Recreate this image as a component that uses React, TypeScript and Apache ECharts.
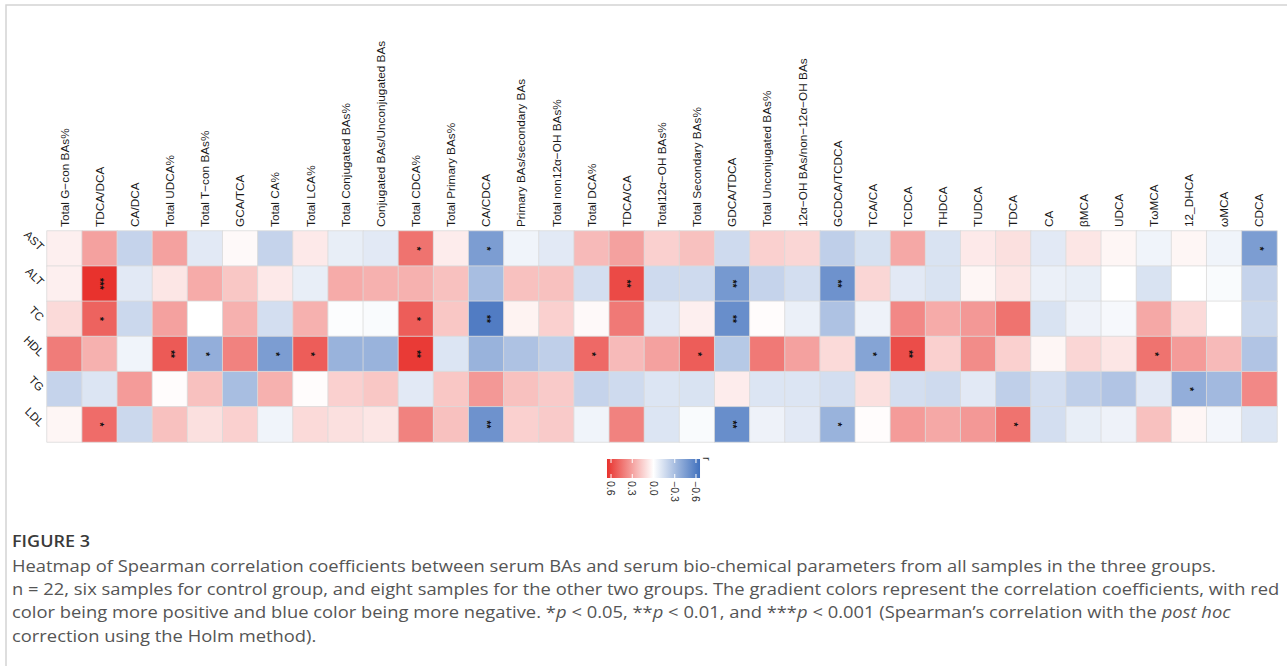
import React, { useEffect, useRef } from "react";
import * as echarts from "echarts";

const columns = [
  "Total G−con BAs%", "TDCA/DCA", "CA/DCA", "Total UDCA%", "Total T−con BAs%", "GCA/TCA",
  "Total CA%", "Total LCA%", "Total Conjugated BAs%", "Conjugated BAs/Unconjugated BAs",
  "Total CDCA%", "Total Primary BAs%", "CA/CDCA", "Primary BAs/secondary BAs",
  "Total non12α−OH BAs%", "Total DCA%", "TDCA/CA", "Total12α−OH BAs%", "Total Secondary BAs%",
  "GDCA/TDCA", "Total Unconjugated BAs%", "12α−OH BAs/non−12α−OH BAs", "GCDCA/TCDCA", "TCA/CA",
  "TCDCA", "THDCA", "TUDCA", "TDCA", "CA", "βMCA", "UDCA", "TωMCA", "12_DHCA", "ωMCA", "CDCA",
];
const rows = ["AST", "ALT", "TC", "HDL", "TG", "LDL"];

const astR = [0.05, 0.3, -0.2, 0.3, -0.1, 0.02, -0.2, 0.07, -0.08, -0.1, 0.45, 0.06, -0.45, -0.05, -0.1, 0.22, 0.3, 0.15, 0.2, -0.17, 0.15, 0.13, -0.22, -0.14, 0.28, -0.13, 0.07, 0.1, -0.1, 0.08, 0.03, -0.05, 0.03, -0.05, -0.45];
const altR = [0.05, 0.68, -0.1, 0.08, 0.27, 0.18, 0.07, -0.08, 0.27, 0.25, 0.25, 0.2, -0.3, 0.2, 0.2, -0.15, 0.58, -0.17, -0.17, -0.47, -0.2, -0.15, -0.5, 0.13, -0.1, -0.13, 0.03, 0.08, -0.07, -0.08, 0.0, -0.13, 0.0, -0.02, -0.2];
const tcR = [0.12, 0.5, -0.18, 0.3, 0.0, 0.25, -0.15, 0.25, -0.01, -0.02, 0.52, 0.18, -0.6, 0.04, 0.15, 0.02, 0.43, -0.1, 0.05, -0.52, 0.01, -0.07, -0.28, -0.06, 0.38, 0.27, 0.33, 0.45, -0.13, -0.06, -0.03, 0.28, 0.12, 0.0, -0.18];
const hdlR = [0.42, 0.25, -0.05, 0.53, -0.37, 0.4, -0.45, 0.52, -0.35, -0.35, 0.63, -0.12, -0.35, -0.28, -0.22, 0.48, 0.22, 0.3, 0.52, -0.25, 0.43, 0.3, 0.12, -0.42, 0.57, 0.15, 0.37, 0.15, 0.03, 0.13, 0.08, 0.45, 0.32, 0.22, -0.27];
const tgR = [-0.2, -0.12, 0.32, 0.01, 0.2, -0.3, 0.25, 0.01, 0.15, 0.18, -0.1, 0.18, 0.33, 0.2, 0.17, -0.2, -0.17, -0.12, -0.13, 0.06, -0.12, -0.12, -0.15, 0.1, -0.15, -0.17, -0.1, -0.22, -0.15, -0.22, -0.27, -0.1, -0.37, -0.32, 0.38];
const ldlR = [0.03, 0.47, -0.18, 0.2, 0.1, 0.15, -0.05, 0.12, 0.1, 0.08, 0.4, 0.2, -0.5, 0.15, 0.17, -0.05, 0.4, -0.12, -0.02, -0.52, -0.06, -0.1, -0.35, 0.01, 0.32, 0.28, 0.33, 0.45, -0.15, -0.08, -0.06, 0.2, 0.03, -0.04, -0.12];
const rValues = [astR, altR, tcR, hdlR, tgR, ldlR];

const sigMarks: [string, string, string][] = [
  ["AST", "Total CDCA%", "*"], ["AST", "CA/CDCA", "*"], ["AST", "CDCA", "*"],
  ["ALT", "TDCA/DCA", "***"], ["ALT", "TDCA/CA", "**"], ["ALT", "GDCA/TDCA", "**"], ["ALT", "GCDCA/TCDCA", "**"],
  ["TC", "TDCA/DCA", "*"], ["TC", "Total CDCA%", "*"], ["TC", "CA/CDCA", "**"], ["TC", "GDCA/TDCA", "**"],
  ["HDL", "Total UDCA%", "**"], ["HDL", "Total T−con BAs%", "*"], ["HDL", "Total CA%", "*"], ["HDL", "Total LCA%", "*"],
  ["HDL", "Total CDCA%", "**"], ["HDL", "Total DCA%", "*"], ["HDL", "Total Secondary BAs%", "*"], ["HDL", "TCA/CA", "*"],
  ["HDL", "TCDCA", "**"], ["HDL", "TωMCA", "*"],
  ["TG", "12_DHCA", "*"],
  ["LDL", "TDCA/DCA", "*"], ["LDL", "CA/CDCA", "**"], ["LDL", "GDCA/TDCA", "**"], ["LDL", "GCDCA/TCDCA", "*"], ["LDL", "TDCA", "*"],
];

const legendTicks = [0.6, 0.3, 0.0, -0.3, -0.6];
const legendTickLabels = ["0.6", "0.3", "0.0", "−0.3", "−0.6"];

const BLUE = "#4070bd";
const RED = "#e8322d";
const RMAX = 0.657;

const captionLines = [
  "Heatmap of Spearman correlation coefficients between serum BAs and serum bio-chemical parameters from all samples in the three groups.",
  "n = 22, six samples for control group, and eight samples for the other two groups. The gradient colors represent the correlation coefficients, with red",
  "color being more positive and blue color being more negative. *{i|p} < 0.05, **{i|p} < 0.01, and ***{i|p} < 0.001 (Spearman’s correlation with the {i|post hoc}",
  "correction using the Holm method).",
];

export default function App() {
  const ref = useRef<HTMLDivElement>(null);
  useEffect(() => {
    const chart = echarts.init(ref.current!, null, { renderer: "svg" });
    const data: any[] = [];
    rValues.forEach((row, yi) => row.forEach((v, xi) => data.push([xi, yi, v])));
    const sig: Record<string, string> = {};
    sigMarks.forEach(([r, c, s]) => {
      sig[columns.indexOf(c) + "_" + rows.indexOf(r)] = s;
    });

    const font = "'Liberation Sans', Arial, sans-serif";
    const capFont = "'Open Sans', 'Noto Sans', sans-serif";
    const legCx = 653.5;
    const pxPerUnit = 70.8;
    const legTop = 459;
    const legH = 19;
    const legLeft = legCx - RMAX * pxPerUnit;
    const legW = 2 * RMAX * pxPerUnit;

    const graphics: any[] = [
      {
        type: "rect",
        shape: { x: 6, y: 5, width: 1300, height: 700 },
        style: { fill: "none", stroke: "#d4d4d4", lineWidth: 1.5 },
        silent: true,
      },
      {
        type: "rect",
        shape: { x: legLeft, y: legTop, width: legW, height: legH },
        style: {
          fill: new echarts.graphic.LinearGradient(0, 0, 1, 0, [
            { offset: 0, color: RED },
            { offset: 0.5, color: "#ffffff" },
            { offset: 1, color: BLUE },
          ]),
        },
      },
    ];
    legendTicks.forEach((t, i) => {
      const x = legCx - t * pxPerUnit;
      graphics.push({
        type: "line",
        shape: { x1: x, y1: legTop, x2: x, y2: legTop + 4 },
        style: { stroke: "#ffffff", lineWidth: 1 },
      });
      graphics.push({
        type: "line",
        shape: { x1: x, y1: legTop + legH - 4, x2: x, y2: legTop + legH },
        style: { stroke: "#ffffff", lineWidth: 1 },
      });
      graphics.push({
        type: "text",
        x: x,
        y: legTop + legH + 3,
        rotation: -Math.PI / 2,
        style: {
          text: legendTickLabels[i],
          fontSize: 10.5,
          fontFamily: font,
          fill: "#333",
          align: "left",
          verticalAlign: "middle",
        },
      });
    });
    graphics.push({
      type: "text",
      x: 707,
      y: 457,
      rotation: -Math.PI / 2,
      style: { text: "r", fontSize: 11, fontFamily: font, fill: "#333", align: "left", verticalAlign: "middle" },
    });
    graphics.push({
      type: "text",
      x: 12,
      y: 540,
      scaleX: 1.06,
      style: {
        text: "FIGURE 3",
        fontSize: 17,
        fontWeight: 600,
        fontFamily: capFont,
        fill: "#3a3a3a",
        verticalAlign: "middle",
      },
    });
    captionLines.forEach((line, i) => {
      graphics.push({
        type: "text",
        x: 12,
        y: 565 + i * 23.3,
        scaleX: 1.08,
        style: {
          text: line,
          fontSize: 17,
          fontFamily: capFont,
          fill: "#555555",
          verticalAlign: "middle",
          rich: { i: { fontStyle: "italic", fontSize: 17, fontFamily: capFont, fill: "#555555" } },
        },
      });
    });

    chart.setOption({
      animation: false,
      backgroundColor: "#ffffff",
      grid: { left: 47, top: 231, width: 1230, height: 211 },
      xAxis: {
        type: "category",
        position: "top",
        data: columns,
        axisLine: { show: false },
        axisTick: { show: false },
        splitLine: { show: false },
        axisLabel: { rotate: -90, interval: 0, fontSize: 11.8, color: "#1a1a1a", margin: 4, fontFamily: font },
      },
      yAxis: {
        type: "category",
        data: rows,
        inverse: true,
        axisLine: { show: false },
        axisTick: { show: false },
        splitLine: { show: false },
        axisLabel: { rotate: -45, fontSize: 11.5, color: "#1a1a1a", margin: 5, fontFamily: font },
      },
      visualMap: {
        show: false,
        type: "continuous",
        min: -RMAX,
        max: RMAX,
        dimension: 2,
        inRange: { color: [BLUE, "#ffffff", RED] },
      },
      series: [
        {
          type: "heatmap",
          data,
          itemStyle: { borderColor: "#dadada", borderWidth: 0.8 },
          label: {
            show: true,
            rotate: -90,
            fontSize: 10,
            fontWeight: "bold",
            color: "#111",
            fontFamily: font,
            formatter: (p: any) => sig[p.data[0] + "_" + p.data[1]] || "",
          },
          emphasis: { disabled: true },
        },
      ],
      graphic: graphics,
    });
    return () => chart.dispose();
  }, []);
  return (
    <div
      ref={ref}
      style={{ position: "fixed", left: 0, top: 0, width: 1287, height: 666, background: "#fff" }}
    />
  );
}
